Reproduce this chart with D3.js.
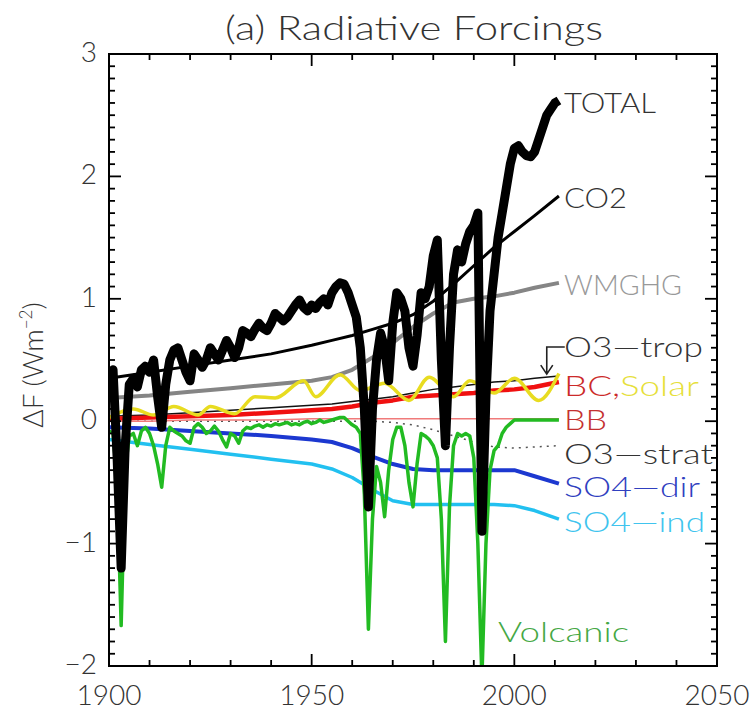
<!DOCTYPE html>
<html>
<head>
<meta charset="utf-8">
<script src="https://cdn.jsdelivr.net/npm/d3@7"></script>
<style>
  body { margin: 0; background: #fff; }
  text { font-family: "Lato", "DejaVu Sans", sans-serif; font-weight: 300; }
</style>
</head>
<body>
<div id="chart"></div>
<script>

// yearly series 1900..2011
const years = d3.range(1900, 2012)

const total = [
  0.38, 0.42, -0.3, -1.2, -0.2, 0.3, 0.35, 0.28, 0.42, 0.45,
  0.4, 0.5, 0.2, -0.05, 0.3, 0.5, 0.58, 0.6, 0.5, 0.4,
  0.33, 0.55, 0.5, 0.44, 0.5, 0.6, 0.55, 0.5, 0.58, 0.66,
  0.6, 0.52, 0.6, 0.74, 0.72, 0.69, 0.75, 0.8, 0.76, 0.74,
  0.8, 0.88, 0.85, 0.82, 0.85, 0.9, 0.95, 0.99, 0.93, 0.9,
  0.95, 0.92, 0.97, 1.0, 0.95, 1.05, 1.1, 1.13, 1.12, 1.05,
  0.95, 0.85, 0.6, 0.1, -0.7, 0.1, 0.5, 0.72, 0.6, 0.33,
  0.8, 1.05, 1.0, 0.9, 0.6, 0.45, 0.7, 1.05, 1.0, 1.1,
  1.35, 1.48, 0.5, -0.2, 0.6, 1.2, 1.4, 1.3, 1.45, 1.55,
  1.6, 1.7, -0.9, 0.2, 0.9, 1.2, 1.5, 1.7, 1.9, 2.1,
  2.23, 2.25, 2.2, 2.17, 2.16, 2.2, 2.3, 2.4, 2.5, 2.55,
  2.6, 2.62
]

const volcanic = [
  -0.08, -0.1, -0.5, -1.67, -0.4, -0.12, -0.1, -0.2, -0.08, -0.05,
  -0.1, -0.2, -0.35, -0.54, -0.2, -0.05, -0.08, -0.1, -0.12, -0.16,
  -0.18, -0.05, -0.02, -0.05, -0.1, -0.08, -0.04, -0.08, -0.15, -0.21,
  -0.1, -0.12, -0.18, -0.08, -0.05, -0.06, -0.04, -0.03, -0.05, -0.03,
  -0.04, -0.02, -0.03, -0.02, -0.01, -0.03, -0.02, -0.03, -0.01, 0.0,
  -0.02, -0.01, 0.01, -0.01, 0.0, 0.01, 0.02, 0.03, 0.03, 0.0,
  -0.03, -0.05, -0.1, -0.6, -1.7, -0.8, -0.37, -0.5, -0.78, -0.4,
  -0.15, -0.05, -0.05, -0.2, -0.5, -0.7, -0.35, -0.1, -0.12, -0.15,
  -0.2, -0.3, -0.8, -1.8, -0.7, -0.2, -0.1, -0.12, -0.1, -0.12,
  -0.3, -1.0, -2.1, -1.0, -0.4, -0.24, -0.2, -0.1, -0.05, -0.02,
  0.01, 0.01, 0.01, 0.01, 0.01, 0.01, 0.01, 0.01, 0.01, 0.01,
  0.01, 0.01
]

// smooth series, sampled years
const smoothYears = [1900, 1910, 1920, 1930, 1940, 1950, 1955, 1960, 1965, 1970, 1975, 1980, 1985, 1990, 1995, 2000, 2005, 2011]

const co2     = [0.35, 0.4, 0.45, 0.5, 0.55, 0.62, 0.66, 0.7, 0.75, 0.8, 0.87, 0.98, 1.12, 1.27, 1.42, 1.55, 1.68, 1.84]
const wmghg   = [0.19, 0.21, 0.24, 0.27, 0.3, 0.33, 0.36, 0.42, 0.52, 0.64, 0.77, 0.88, 0.97, 1.0, 1.02, 1.05, 1.09, 1.13]
const o3trop  = [0.04, 0.05, 0.07, 0.09, 0.11, 0.13, 0.14, 0.16, 0.18, 0.2, 0.23, 0.26, 0.28, 0.3, 0.32, 0.33, 0.35, 0.37]
const bc      = [0.02, 0.03, 0.04, 0.05, 0.07, 0.09, 0.1, 0.12, 0.15, 0.17, 0.2, 0.21, 0.22, 0.23, 0.25, 0.26, 0.28, 0.32]
const bb      = [0.0, 0.0, 0.01, 0.01, 0.01, 0.02, 0.02, 0.02, 0.02, 0.02, 0.02, 0.02, 0.02, 0.02, 0.02, 0.02, 0.02, 0.02]
const o3strat = [0, 0, 0, 0, 0, 0, 0, 0, 0, -0.01, -0.03, -0.07, -0.12, -0.17, -0.21, -0.22, -0.21, -0.2]
const so4dir  = [-0.05, -0.06, -0.08, -0.1, -0.12, -0.15, -0.17, -0.22, -0.29, -0.35, -0.39, -0.4, -0.4, -0.4, -0.4, -0.4, -0.45, -0.51]
const so4ind  = [-0.15, -0.19, -0.23, -0.27, -0.31, -0.35, -0.39, -0.46, -0.56, -0.65, -0.68, -0.68, -0.68, -0.68, -0.68, -0.69, -0.73, -0.8]

// solar follows its own cycle
const solarYears = [1900, 1906, 1911, 1916, 1922, 1925, 1931, 1936, 1941, 1948, 1951, 1957, 1962, 1968, 1974, 1979, 1985, 1989, 1995, 2000, 2006, 2011]
const solar      = [0.03, 0.1, 0.05, 0.12, 0.05, 0.12, 0.06, 0.2, 0.19, 0.33, 0.2, 0.38, 0.25, 0.31, 0.17, 0.36, 0.2, 0.33, 0.23, 0.35, 0.17, 0.39]

const xTicks = [1900, 1950, 2000, 2050]
const yTicks = [-2, -1, 0, 1, 2, 3]

const W = 754, H = 711
const mLeft = 109, mRight = 717, mTop = 54, mBottom = 666

const x = d3.scaleLinear().domain([1900, 2050]).range([mLeft, mRight])
const y = d3.scaleLinear().domain([-2, 3]).range([mBottom, mTop])

const svg = d3.select("#chart").append("svg")
  .attr("width", W)
  .attr("height", H)

svg.append("clipPath").attr("id", "clip")
  .append("rect")
    .attr("x", mLeft).attr("y", mTop)
    .attr("width", mRight - mLeft).attr("height", mBottom - mTop)

const plot = svg.append("g").attr("clip-path", "url(#clip)")

const line = d3.line()
  .x(function(d) { return x(d[0]) })
  .y(function(d) { return y(d[1]) })

function pairs(xs, vs) {
  return xs.map(function(t, i) { return [t, vs[i]] })
}

const series = [
  { vals: pairs(smoothYears, so4ind),  color: "#22c0f0", width: 3.5 },
  { vals: pairs(smoothYears, so4dir),  color: "#1c38d0", width: 4 },
  { vals: pairs(smoothYears, o3strat), color: "#555",    width: 1.5, dash: "2,5" },
  { vals: pairs(smoothYears, bb),      color: "#f07a7a", width: 1.5 },
  { vals: pairs(smoothYears, o3trop),  color: "#111",    width: 1.5 },
  { vals: pairs(smoothYears, wmghg),   color: "#858585", width: 4 },
  { vals: pairs(smoothYears, co2),     color: "#000",    width: 3 },
  { vals: pairs(smoothYears, bc),      color: "#f01010", width: 4.5 },
  { vals: pairs(solarYears, solar),    color: "#e8dc20", width: 3.5, curve: true },
  { vals: pairs(years, volcanic),      color: "#22bb22", width: 3.5 },
  { vals: pairs(years, total),         color: "#000",    width: 9 }
]

series.forEach(function(s) {
  const l = s.curve ? line.curve(d3.curveMonotoneX) : line.curve(d3.curveLinear)
  plot.append("path")
    .attr("d", l(s.vals))
    .attr("fill", "none")
    .attr("stroke", s.color)
    .attr("stroke-width", s.width)
    .attr("stroke-linejoin", "round")
    .attr("stroke-dasharray", s.dash || null)
})

// frame and ticks
svg.append("rect")
  .attr("x", mLeft).attr("y", mTop)
  .attr("width", mRight - mLeft).attr("height", mBottom - mTop)
  .attr("fill", "none").attr("stroke", "#000").attr("stroke-width", 2)

const ticks = svg.append("g").attr("stroke", "#000").attr("stroke-width", 1.8)

d3.range(1900, 2051, 10).forEach(function(t) {
  const len = (t % 50 === 0) ? 12 : 6
  ticks.append("line").attr("x1", x(t)).attr("x2", x(t)).attr("y1", mBottom).attr("y2", mBottom - len)
  ticks.append("line").attr("x1", x(t)).attr("x2", x(t)).attr("y1", mTop).attr("y2", mTop + len)
})

d3.range(-20, 31).forEach(function(k) {
  const v = k / 10
  const len = (k % 10 === 0) ? 12 : 6
  ticks.append("line").attr("x1", mLeft).attr("x2", mLeft + len).attr("y1", y(v)).attr("y2", y(v))
  ticks.append("line").attr("x1", mRight).attr("x2", mRight - len).attr("y1", y(v)).attr("y2", y(v))
})

// tick labels
svg.selectAll(".xl").data(xTicks).enter().append("text")
  .attr("x", function(d) { return x(d) })
  .attr("y", 705)
  .attr("text-anchor", "middle")
  .attr("font-size", 28)
  .attr("fill", "#333")
  .text(function(d) { return d })

svg.selectAll(".yl").data(yTicks).enter().append("text")
  .attr("x", 97)
  .attr("y", function(d) { return y(d) + 8 })
  .attr("text-anchor", "end")
  .attr("font-size", 28)
  .attr("fill", "#333")
  .text(function(d) { return d < 0 ? "\u2212" + (-d) : d })

// title and axis label
svg.append("text")
  .attr("x", 225).attr("y", 40)
  .attr("font-size", 34)
  .attr("fill", "#333")
  .attr("textLength", 378)
  .attr("lengthAdjust", "spacingAndGlyphs")
  .text("(a) Radiative Forcings")

const yl = svg.append("text")
  .attr("transform", "translate(43,365) rotate(-90)")
  .attr("text-anchor", "middle")
  .attr("font-size", 28)
  .attr("fill", "#333")
yl.append("tspan").text("\u0394F (Wm")
yl.append("tspan").attr("font-size", 17).attr("dy", -11).text("\u22122")
yl.append("tspan").attr("dy", 11).text(")")

// series labels: text, colour parts, baseline, width
const labels = [
  { parts: [["TOTAL", "#333"]],                  x: 564, y: 113, w: 92 },
  { parts: [["CO2", "#333"]],                    x: 564, y: 208, w: 63 },
  { parts: [["WMGHG", "#999"]],                  x: 564, y: 295, w: 118 },
  { parts: [["O3\u2014trop", "#333"]],           x: 564, y: 357, w: 139 },
  { parts: [["BC,", "#cc2a2a"], ["Solar", "#e6e03a"]], x: 564, y: 396, w: 135 },
  { parts: [["BB", "#c43030"]],                  x: 564, y: 430, w: 43 },
  { parts: [["O3\u2014strat", "#333"]],          x: 564, y: 464, w: 149 },
  { parts: [["SO4\u2014dir", "#3040c0"]],        x: 564, y: 497, w: 136 },
  { parts: [["SO4\u2014ind", "#40c4ee"]],        x: 564, y: 532, w: 141 },
  { parts: [["Volcanic", "#45a845"]],            x: 498, y: 642, w: 131 }
]

labels.forEach(function(lb) {
  const t = svg.append("text")
    .attr("x", lb.x).attr("y", lb.y)
    .attr("font-size", 28)
    .attr("textLength", lb.w)
    .attr("lengthAdjust", "spacingAndGlyphs")
  lb.parts.forEach(function(p) {
    t.append("tspan").attr("fill", p[1]).text(p[0])
  })
})

// arrow from O3-trop label down to its line
const ax = x(2008)
const tip = y(0.36) - 3
svg.append("path")
  .attr("d", "M" + (ax + 18) + "," + 347 + "H" + ax + "V" + tip +
             "M" + (ax - 6) + "," + (tip - 9) + "L" + ax + "," + tip + "L" + (ax + 6) + "," + (tip - 9))
  .attr("fill", "none")
  .attr("stroke", "#222")
  .attr("stroke-width", 1.6)

</script>
</body>
</html>
